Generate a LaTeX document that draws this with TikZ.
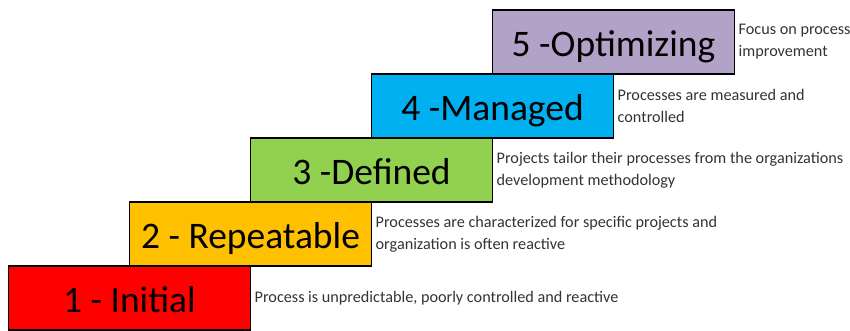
\documentclass[tikz,border=0pt]{standalone}
\usepackage{fontspec}
\setmainfont{Carlito}
\usetikzlibrary{positioning}
\definecolor{lvlred}{HTML}{FF0000}
\definecolor{lvlyellow}{HTML}{FFC000}
\definecolor{lvlgreen}{HTML}{92D050}
\definecolor{lvlblue}{HTML}{00B0F0}
\definecolor{lvlpurple}{HTML}{B3A2C7}

\begin{document}
\begin{tikzpicture}[x=1pt,y=1pt,
  level/.style={draw=black, line width=1.2pt, outer sep=0pt, inner sep=0pt,
    minimum width=242pt, minimum height=64pt, text height=33pt, text depth=3pt,
    font=\fontsize{37.5}{37.5}\selectfont},
  note/.style={align=left, inner sep=0pt, text=black!80,
    font=\fontsize{16.2}{22}\selectfont}]
\useasboundingbox (0,0) rectangle (850,331);
\node[level, fill=lvlred] (l1) at (129.5,33) {1 - Initial};
\node[level, fill=lvlyellow, above right=0pt and -121pt of l1] (l2) {2 - Repeatable};
\node[level, fill=lvlgreen, above right=0pt and -121pt of l2] (l3) {3 -Defined};
\node[level, fill=lvlblue, above right=0pt and -121pt of l3] (l4) {4 -Managed};
\node[level, fill=lvlpurple, above right=0pt and -121pt of l4] (l5) {5 -Optimizing};

\node[note, right=4pt of l1] (n1) {Process is unpredictable, poorly controlled and reactive};
\node[note, right=4pt of l2] (n2) {Processes are characterized for specific projects and\\organization is often reactive};
\node[note, right=4pt of l3] (n3) {Projects tailor their processes from the organizations\\development methodology};
\node[note, right=4pt of l4] (n4) {Processes are measured and\\controlled};
\node[note, right=4pt of l5] (n5) {Focus on process\\improvement};
\end{tikzpicture}
\end{document}
